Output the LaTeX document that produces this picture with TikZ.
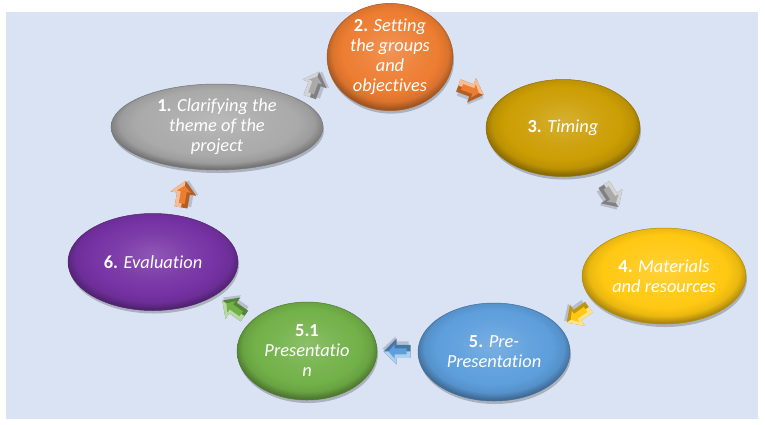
\documentclass[tikz,border=0pt]{standalone}
\usepackage{fontspec}
\setmainfont{Carlito}[Ligatures={NoCommon}]
\usetikzlibrary{shapes.geometric,shadows,calc}
\definecolor{bgblue}{RGB}{218,227,243}
\definecolor{cgray}{RGB}{170,170,170}
\definecolor{corange}{RGB}{237,125,49}
\definecolor{cgold}{RGB}{204,158,4}
\definecolor{cyellow}{RGB}{255,200,18}
\definecolor{cblue}{RGB}{93,158,220}
\definecolor{cgreen}{RGB}{114,177,72}
\definecolor{cpurple}{RGB}{118,50,164}
\colorlet{bubc}{cgray}
\pgfdeclareradialshading[bubc]{bevel}{\pgfpoint{0bp}{4bp}}{%
  color(0bp)=(bubc!82!white); color(12bp)=(bubc!95!white); color(19bp)=(bubc);
  color(23bp)=(bubc!92!black); color(26bp)=(bubc!68!black); color(50bp)=(bubc!68!black)}
\newcommand\lblfont{\fontsize{18.4}{20}\selectfont}
\newcommand\nb[1]{\textbf{#1}}
\newcommand\ti[1]{\textit{#1}}
\begin{document}
\begin{tikzpicture}[x=1pt,y=-1pt,
  bub/.style={ellipse, inner sep=0pt, align=center, text=white, font=\lblfont,
    /utils/exec={\colorlet{bubc}{#1}}, shading=bevel, draw=#1!70!black, line width=0.5pt,
    drop shadow={shadow xshift=1pt, shadow yshift=-3pt, opacity=0.22, fill=black}},
  pics/barrow/.style={code={
    \fill[black, opacity=0.16] (-10,-4) -- (3,-4) -- (3,-9) -- (16,3) -- (3,15) -- (3,10) -- (-10,10) -- cycle;
    \fill[#1!75!black] (-12,-6.5) -- (2,-6.5) -- (2,-13) -- (15,0) -- (2,13) -- (2,6.5) -- (-12,6.5) -- cycle;
    \fill[#1!50!white] (-12,-6.5) -- (2,-6.5) -- (2,-13) -- (15,0) -- (-12,0) -- cycle;
    \fill[#1] (-8,-3) -- (4,-3) -- (4,-7) -- (10,0) -- (4,7) -- (4,3) -- (-8,3) -- cycle;
  }}]
  % background
  \fill[white] (0,0) rectangle (765,424);
  \fill[bgblue] (6,12) rectangle (758,419);
  \useasboundingbox (0,0) rectangle (765,424);

  % nodes
  \node[bub=cgray, minimum width=212pt, minimum height=86pt] (n1) at (217,127)
    {\nb{1.} \ti{Clarifying the}\\ \ti{theme of the}\\ \ti{project}};
  \node[bub=corange, minimum width=126pt, minimum height=94pt] (n2) at (390,57)
    {\nb{2.} \ti{Setting}\\ \ti{the groups}\\ \ti{and}\\ \ti{objectives}};
  \node[bub=cgold, minimum width=154pt, minimum height=97pt] (n3) at (563,128)
    {\nb{3.} \ti{Timing}};
  \node[bub=cyellow, minimum width=164pt, minimum height=96pt] (n4) at (664,276)
    {\nb{4.} \ti{Materials}\\ \ti{and resources}};
  \node[bub=cblue, minimum width=152pt, minimum height=98pt] (n5) at (494,352)
    {\nb{5.} \ti{Pre-}\\ \ti{Presentation}};
  \node[bub=cgreen, minimum width=140pt, minimum height=98pt] (n51) at (307,351)
    {\nb{5.1}\\ \ti{Presentatio}\\ \ti{n}};
  \node[bub=cpurple, minimum width=170pt, minimum height=97pt] (n6) at (153,262)
    {\nb{6.} \ti{Evaluation}};

  % arrows between the steps
  \pic[rotate=70]  at ($(n1)!0.56!(n2)+(0,-2)$) {barrow=cgray};
  \pic[rotate=-20] at ($(n2)!0.46!(n3)$) {barrow=corange};
  \pic[rotate=-57] at ($(n3)!0.47!(n4)+(0,-3)$) {barrow=cgray};
  \pic[rotate=215] at ($(n4)!0.5!(n5)$) {barrow=cyellow};
  \pic[rotate=180] at ($(n5)!0.51!(n51)$) {barrow=cblue};
  \pic[rotate=145] at ($(n51)!0.47!(n6)$) {barrow=cgreen};
  \pic[rotate=80]  at ($(n6)!0.47!(n1)+(0,-3)$) {barrow=corange};
\end{tikzpicture}
\end{document}
